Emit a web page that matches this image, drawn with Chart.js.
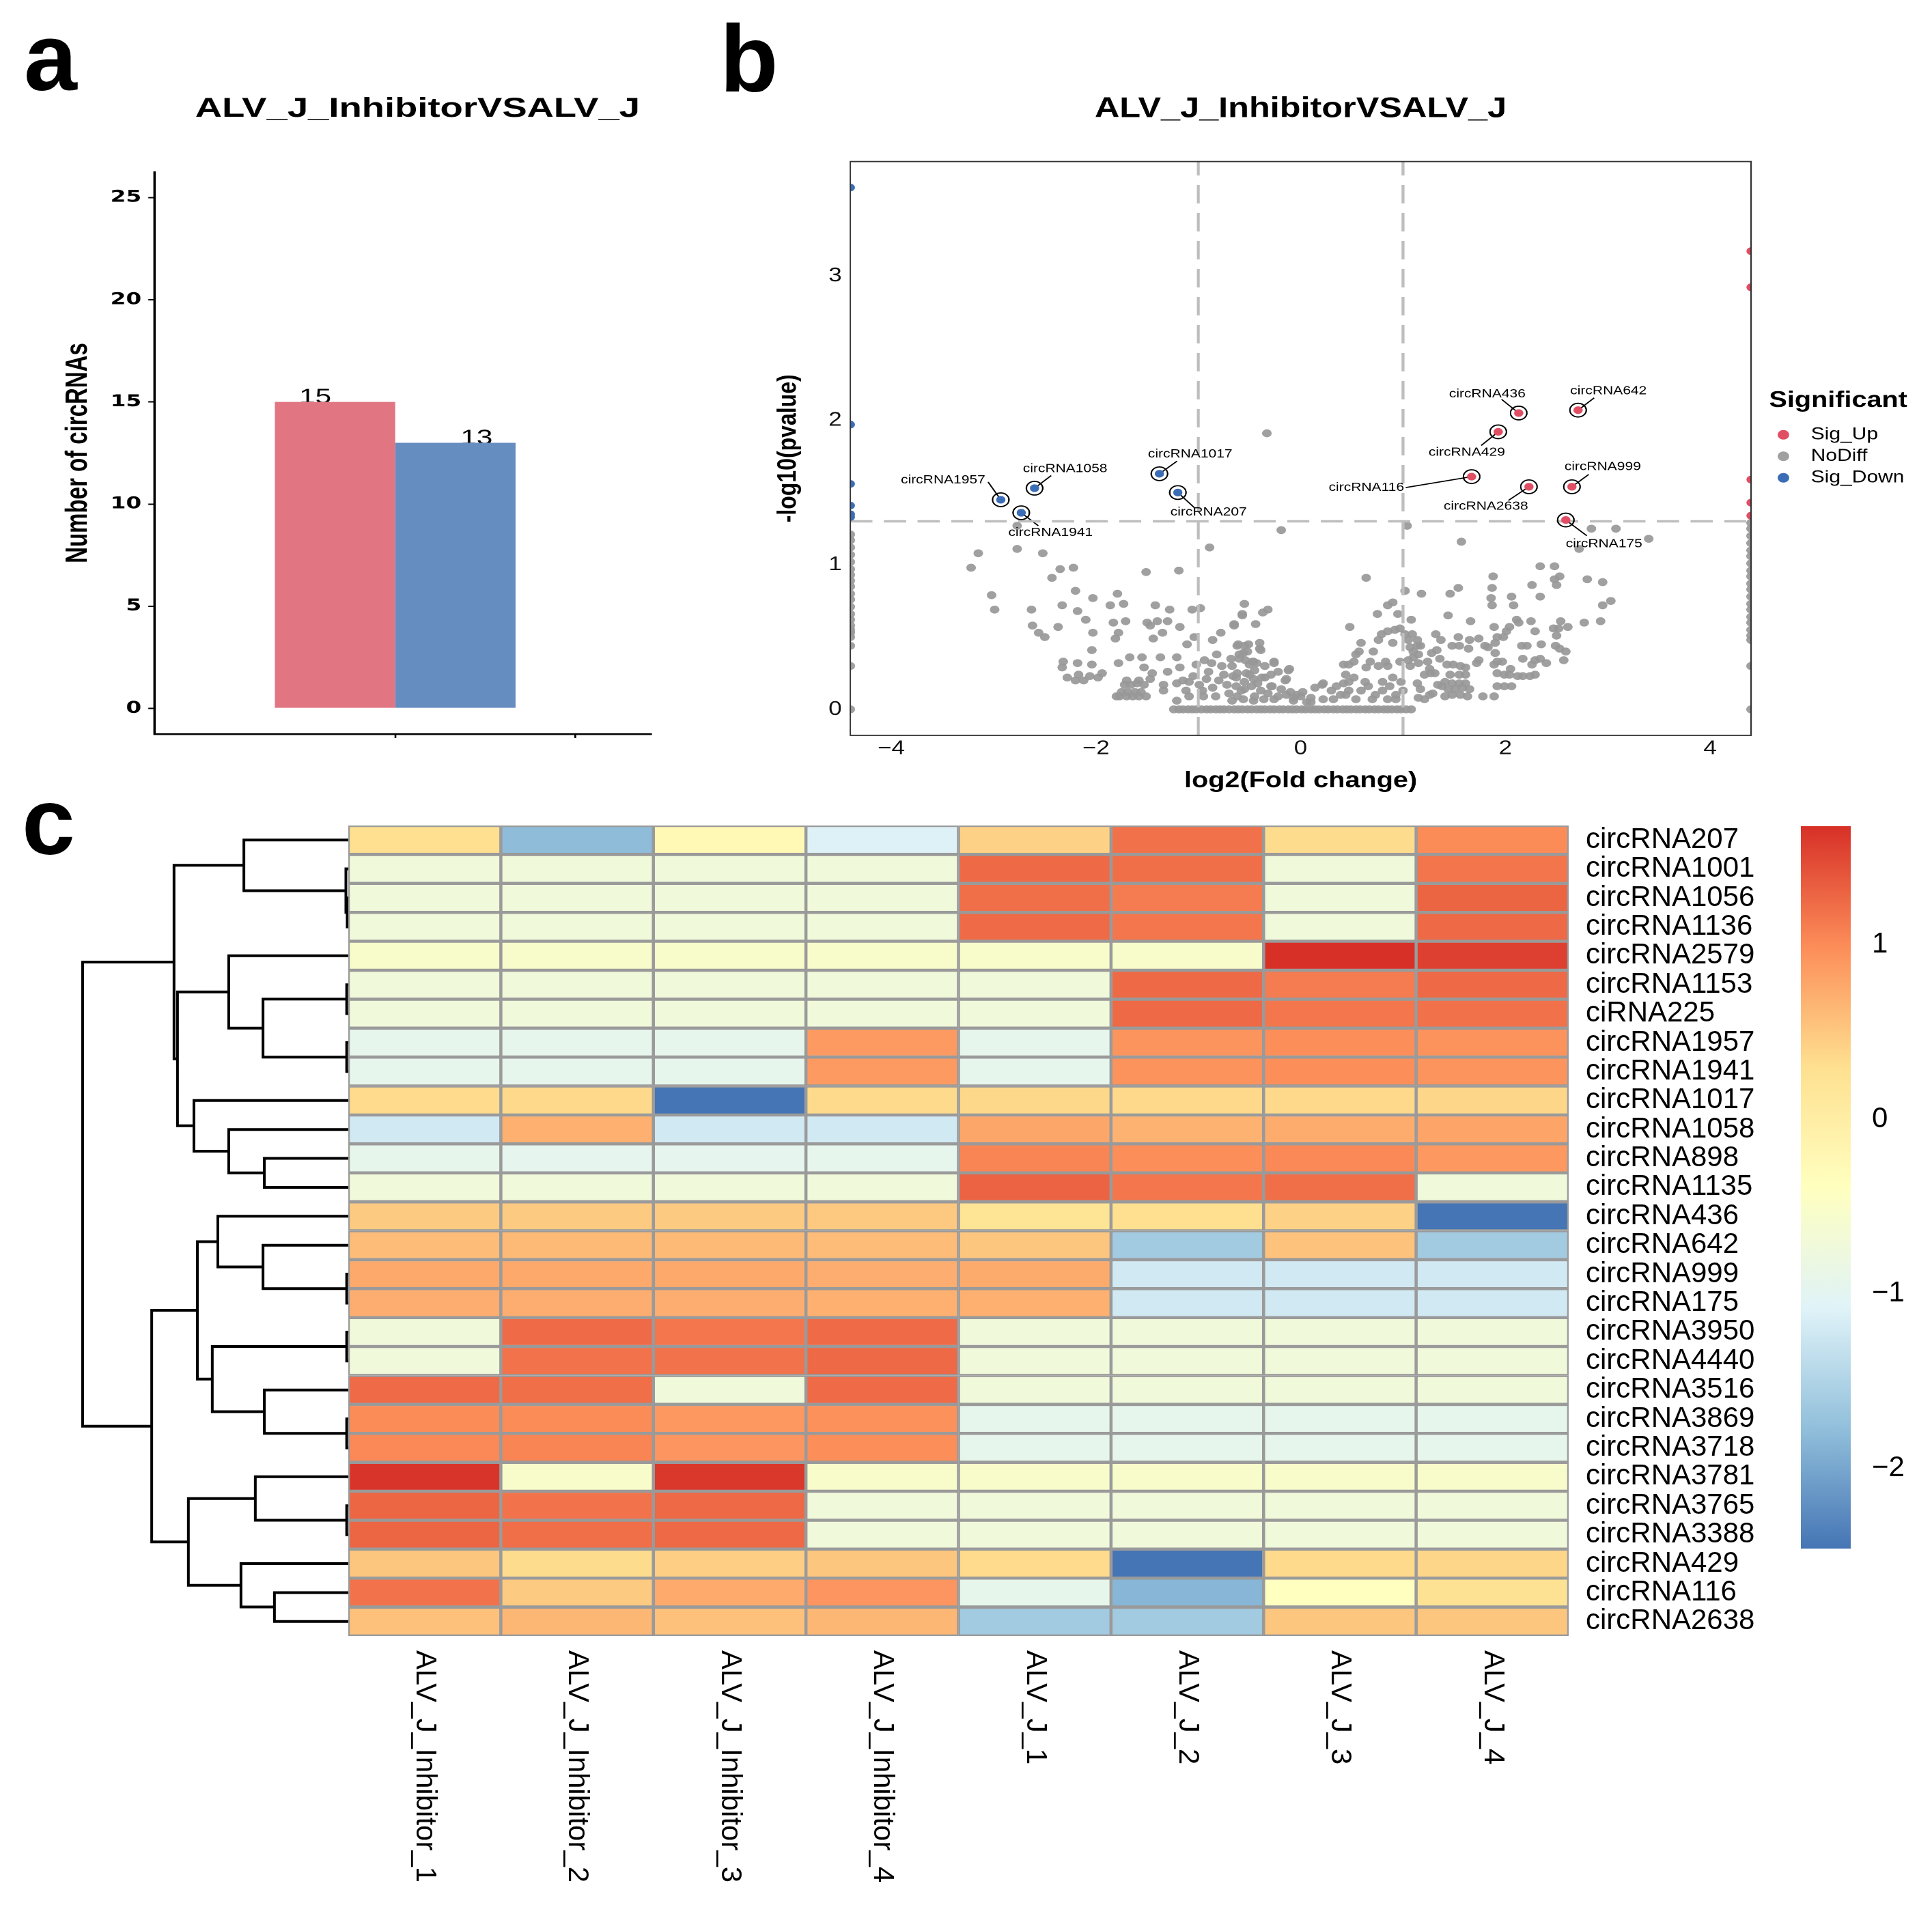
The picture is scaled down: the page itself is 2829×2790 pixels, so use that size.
<!DOCTYPE html>
<html lang="en">
<head>
<meta charset="UTF-8" />
<title>ALV_J_Inhibitor vs ALV_J circRNAs</title>
<script src="https://cdn.jsdelivr.net/npm/chart.js@4.4.1/dist/chart.umd.min.js"></script>
<style>
body {
  margin: 0;
  width: 2829px;
  height: 2790px;
  position: relative;
  overflow: hidden;
  background: #fff;
  font-family: 'Liberation Sans', Arial, sans-serif;
}
.letra {
  position: absolute;
  font-size: 140px;
  line-height: 140px;
  font-weight: bold;
  color: #000;
}
.caja { position: absolute; }
.caja canvas { display: block; }
</style>
</head>
<body>
<div class="letra" style="left:35px;top:14px">a</div>
<div class="letra" style="left:1054px;top:16px">b</div>
<div class="letra" style="left:32px;top:1133px">c</div>

<div class="caja" style="left:0;top:0;width:898.5px;height:1103px;transform:scaleX(1.36);transform-origin:0 0">
  <canvas id="barras"></canvas>
</div>
<div class="caja" style="left:1050px;top:0;width:1482.5px;height:1190px;transform:scaleX(1.2);transform-origin:0 0">
  <canvas id="volcan"></canvas>
</div>
<div class="caja" style="left:0;top:1150px;width:520px;height:1640px">
  <canvas id="dendro"></canvas>
</div>
<div class="caja" style="left:500px;top:1150px;width:2120px;height:1640px">
  <canvas id="mapa"></canvas>
</div>
<div class="caja" style="left:2620px;top:1150px;width:209px;height:1180px">
  <canvas id="escala"></canvas>
</div>

<script>
// ---------- data: panel a ----------
const chartTitle = 'ALV_J_InhibitorVSALV_J';
const barGroups = ['Sig_Up', 'Sig_Down'];
const barCounts = [15, 13];

// ---------- data: panel b (volcano) ----------
const fcCut = 1;
const pCut = 0.05;
const labelNames = ['circRNA1957', 'circRNA1058', 'circRNA1941', 'circRNA1017', 'circRNA207',
  'circRNA436', 'circRNA642', 'circRNA429', 'circRNA116', 'circRNA2638', 'circRNA999', 'circRNA175'];
const labelLogFC = [-2.93, -2.60, -2.73, -1.38, -1.20, 2.13, 2.71, 1.93, 1.67, 2.23, 2.65, 2.59];
const labelNegLogP = [1.45, 1.53, 1.36, 1.63, 1.50, 2.05, 2.07, 1.92, 1.61, 1.54, 1.54, 1.31];
const sigUpEdge = [[4.4, 3.17], [4.4, 2.92], [4.4, 1.59], [4.4, 1.43], [4.4, 1.34]];
const sigDownEdge = [[-4.4, 3.61], [-4.4, 1.97], [-4.4, 1.56], [-4.4, 1.41], [-4.4, 1.35], [-4.4, 1.33]];
const noDiffPoints = [
  [-0.33,1.91],[-0.19,1.24],[1.04,1.27],[1.57,1.16],[2.84,1.25],[3.08,1.25],[3.40,1.18],[2.72,1.11],[0.64,0.91],
  [-2.77,1.27],[-3.15,1.08],[-2.77,1.11],[-2.52,1.08],[-3.22,0.98],[-2.35,0.97],[-2.22,0.98],[-1.51,0.95],[-1.19,0.96],
  [-0.89,1.12],[-2.43,0.91],[-3.02,0.79],[-2.99,0.69],[-2.20,0.82],[-2.03,0.77],[-1.79,0.80],[-1.86,0.72],[-1.73,0.73],
  [-2.33,0.72],[-2.63,0.69],[-2.18,0.68],[-1.42,0.72],[-1.28,0.69],[-1.06,0.69],[-0.98,0.70],[-0.55,0.73],[-0.32,0.69],
  [-0.37,0.67],[-0.57,0.65],[-2.10,0.62],[-1.83,0.60],[-1.71,0.61],[-1.50,0.60],[-1.40,0.61],[-1.30,0.61],[-1.18,0.57],
  [-1.47,0.58],[-2.62,0.58],[-2.56,0.53],[-2.37,0.57],[-2.50,0.50],[-2.03,0.53],[-1.81,0.49],[-1.78,0.53],[-1.44,0.49],
  [-1.35,0.53],[-1.04,0.50],[-1.11,0.45],[-0.78,0.53],[-0.65,0.58],[-0.44,0.59],[-0.86,0.48],[-0.61,0.45],[-0.51,0.45],
  [-0.40,0.46],[-2.04,0.41],[-2.04,0.31],[-2.18,0.32],[-2.32,0.33],[-2.33,0.29],[-2.17,0.24],[-2.06,0.23],[-1.94,0.25],
  [-1.78,0.32],[-1.67,0.36],[-1.55,0.36],[-1.37,0.36],[-1.53,0.29],[-1.45,0.25],[-1.30,0.26],[-1.21,0.36],[-1.18,0.29],
  [-1.02,0.31],[-0.94,0.34],[-0.87,0.32],[-0.82,0.38],[-0.77,0.30],[-0.68,0.35],[-0.60,0.38],[-0.54,0.34],[-0.47,0.33],
  [-0.39,0.41],[-0.26,0.32],[-0.12,0.27],[-0.45,0.27],[-0.62,0.25],[-0.75,0.24],[-0.92,0.21],[-1.09,0.19],[-1.21,0.18],
  [-1.34,0.17],[-1.47,0.21],[-1.60,0.18],[-1.72,0.17],[-1.77,0.09],[-1.64,0.09],[-1.51,0.09],[-1.34,0.13],[-1.21,0.06],
  [-1.09,0.09],[-0.96,0.13],[-0.83,0.09],[-0.70,0.11],[-0.58,0.13],[-0.45,0.09],[-0.32,0.11],[-0.19,0.14],[-0.07,0.06],
  [0.06,0.05],[0.21,0.17],[-1.75,0.12],[-1.69,0.12],[-1.62,0.12],[-1.56,0.12],[-1.70,0.20],[-1.66,0.17],[-1.58,0.20],
  [-1.53,0.17],[-1.80,0.09],[-1.70,0.09],[-1.58,0.09],[-1.15,0.20],[-1.12,0.13],[-1.05,0.23],[-0.99,0.17],[-0.95,0.09],
  [-0.90,0.26],[-0.86,0.15],[-0.80,0.20],[-0.72,0.17],[-0.66,0.23],[-0.62,0.09],[-0.55,0.19],[-0.50,0.24],[-0.42,0.18],
  [-0.35,0.22],[-0.28,0.16],[-0.22,0.09],[-0.15,0.20],[-0.10,0.12],[-0.04,0.10],[0.02,0.12],[0.10,0.08],[0.14,0.15],
  [-2.28,0.22],[-2.20,0.20],[-2.12,0.20],[-1.98,0.22],
  [1.02,0.82],[1.18,0.80],[1.46,0.80],[1.54,0.84],[1.88,0.92],[2.34,0.99],[2.48,0.99],[2.48,0.90],[2.53,0.92],[2.50,0.86],
  [2.26,0.86],[2.34,0.78],[2.06,0.78],[2.08,0.72],[1.87,0.84],[1.86,0.77],[1.87,0.72],[2.80,0.90],[2.95,0.88],[3.03,0.75],
  [2.95,0.72],[2.77,0.60],[2.93,0.61],[2.61,0.57],[2.54,0.61],[2.47,0.56],[2.52,0.56],[2.25,0.61],[2.29,0.54],[2.11,0.62],
  [2.13,0.60],[2.04,0.57],[2.01,0.54],[1.89,0.57],[1.66,0.61],[1.44,0.65],[1.08,0.62],[0.95,0.66],[0.75,0.66],[0.85,0.72],
  [0.90,0.74],[0.48,0.57],[0.97,0.56],[0.92,0.55],[0.85,0.54],[0.79,0.52],[1.02,0.52],[1.09,0.52],[0.76,0.48],[0.90,0.46],
  [0.59,0.46],[1.05,0.48],[1.14,0.48],[1.32,0.52],[1.37,0.48],[1.54,0.50],[1.65,0.48],[1.74,0.49],[1.48,0.44],[1.55,0.44],
  [1.80,0.44],[1.90,0.46],[1.92,0.50],[1.98,0.50],[2.16,0.44],[2.21,0.44],[2.35,0.45],[2.50,0.51],[2.49,0.44],[2.53,0.42],
  [2.59,0.40],[2.57,0.34],[2.40,0.32],[2.29,0.34],[2.34,0.35],[2.26,0.31],[2.17,0.35],[2.29,0.24],[2.24,0.23],[2.17,0.23],
  [2.12,0.23],[2.04,0.24],[1.99,0.24],[1.92,0.25],[2.05,0.28],[1.92,0.33],[1.97,0.33],[1.89,0.31],[1.83,0.43],[1.90,0.39],
  [1.72,0.32],[1.74,0.34],[1.64,0.42],[1.92,0.16],[1.99,0.16],[2.06,0.16],[1.78,0.09],[1.89,0.09],[1.63,0.09],[1.56,0.10],
  [1.48,0.10],[1.41,0.09],[1.65,0.14],[1.58,0.15],[1.51,0.14],[1.44,0.14],[1.61,0.18],[1.55,0.18],[1.48,0.18],[1.41,0.19],
  [1.61,0.24],[1.55,0.24],[1.46,0.24],[1.43,0.31],[1.49,0.31],[1.56,0.30],[1.61,0.29],[1.36,0.35],[1.28,0.39],[1.33,0.41],
  [1.24,0.33],[1.26,0.28],[1.21,0.24],[1.27,0.25],[1.31,0.25],[1.15,0.32],[1.10,0.36],[1.15,0.38],[1.07,0.43],[1.10,0.40],
  [1.17,0.44],[1.14,0.44],[1.05,0.34],[1.07,0.30],[1.14,0.18],[1.17,0.14],[1.15,0.08],[1.21,0.07],[1.26,0.10],[1.29,0.11],
  [1.34,0.17],[1.38,0.16],[0.22,0.18],[0.30,0.13],[0.35,0.16],[0.32,0.07],[0.42,0.31],[0.47,0.31],[0.44,0.24],[0.42,0.18],
  [0.47,0.19],[0.44,0.10],[0.47,0.13],[0.52,0.22],[0.52,0.33],[0.54,0.38],[0.57,0.40],[0.64,0.29],[0.68,0.33],[0.71,0.40],
  [0.76,0.30],[0.59,0.13],[0.63,0.19],[0.66,0.16],[0.73,0.10],[0.80,0.19],[0.80,0.13],[0.85,0.30],[0.83,0.33],[0.90,0.22],
  [0.87,0.16],[0.93,0.10],[0.97,0.33],[0.98,0.19],[1.00,0.13],[0.93,0.07],[0.85,0.07],[0.70,0.07],[0.54,0.07],[0.39,0.10],
  [0.22,0.07],[0.10,0.05],[-0.57,0.66],[-0.65,0.59],[-0.62,0.44],[-0.55,0.44],[-0.40,0.42],[-0.56,0.39],[-0.52,0.40],
  [-0.67,0.30],[-0.60,0.35],[-0.50,0.31],[-0.46,0.33],[-0.43,0.32],[-0.35,0.30],[-0.26,0.33],[-0.22,0.26],[-0.11,0.28],
  [-0.14,0.21],[-0.29,0.24],[-0.38,0.22],[-0.46,0.21],[-0.53,0.25],[-0.63,0.22],[-0.63,0.16],[-0.55,0.14],[-0.48,0.16],
  [-0.39,0.13],[-0.29,0.16],[-0.14,0.10],[-0.07,0.08],[0.00,0.09],[-0.26,0.07],[-0.36,0.07],[-0.46,0.06],[-0.56,0.07],
  [-0.67,0.06],
  [-1.24,0],[-1.19,0],[-1.15,0],[-1.10,0],[-1.06,0],[-1.02,0],[-0.97,0],[-0.92,0],[-0.88,0],[-0.83,0],[-0.79,0],[-0.75,0],
  [-0.70,0],[-0.65,0],[-0.61,0],[-0.57,0],[-0.52,0],[-0.48,0],[-0.43,0],[-0.39,0],[-0.35,0],[-0.30,0],[-0.26,0],[-0.21,0],
  [-0.17,0],[-0.12,0],[-0.08,0],[-0.04,0],[0.01,0],[0.05,0],[0.10,0],[0.14,0],[0.18,0],[0.23,0],[0.27,0],[0.32,0],[0.36,0],
  [0.41,0],[0.45,0],[0.49,0],[0.54,0],[0.58,0],[0.63,0],[0.67,0],[0.72,0],[0.76,0],[0.81,0],[0.85,0],[0.89,0],[0.94,0],
  [0.98,0],[1.03,0],[1.08,0],
  [-4.4,1.21],[-4.4,1.17],[-4.4,1.12],[-4.4,1.07],[-4.4,1.02],[-4.4,0.97],[-4.4,0.93],[-4.4,0.89],[-4.4,0.85],[-4.4,0.80],
  [-4.4,0.76],[-4.4,0.71],[-4.4,0.66],[-4.4,0.62],[-4.4,0.58],[-4.4,0.55],[-4.4,0.53],[-4.4,0.50],[-4.4,0.44],[-4.4,0.30],
  [-4.4,0.00],
  [4.4,1.29],[4.4,1.25],[4.4,1.20],[4.4,1.15],[4.4,1.10],[4.4,1.06],[4.4,1.01],[4.4,0.96],[4.4,0.92],[4.4,0.87],[4.4,0.83],
  [4.4,0.78],[4.4,0.73],[4.4,0.69],[4.4,0.64],[4.4,0.60],[4.4,0.55],[4.4,0.51],[4.4,0.48],[4.4,0.30],[4.4,0.00]
];
const volcanoXTicks = [-4, -2, 0, 2, 4];
const volcanoYTicks = [0, 1, 2, 3];

// ---------- data: panel c (heatmap, row z-scores) ----------
const rowNames = ['circRNA207', 'circRNA1001', 'circRNA1056', 'circRNA1136', 'circRNA2579', 'circRNA1153', 'ciRNA225',
  'circRNA1957', 'circRNA1941', 'circRNA1017', 'circRNA1058', 'circRNA898', 'circRNA1135', 'circRNA436', 'circRNA642',
  'circRNA999', 'circRNA175', 'circRNA3950', 'circRNA4440', 'circRNA3516', 'circRNA3869', 'circRNA3718', 'circRNA3781',
  'circRNA3765', 'circRNA3388', 'circRNA429', 'circRNA116', 'circRNA2638'];
const sampleNames = ['ALV_J_Inhibitor_1', 'ALV_J_Inhibitor_2', 'ALV_J_Inhibitor_3', 'ALV_J_Inhibitor_4',
  'ALV_J_1', 'ALV_J_2', 'ALV_J_3', 'ALV_J_4'];
const inhibitor1 = [0.30, -0.72, -0.72, -0.72, -0.54, -0.72, -0.72, -0.93, -0.93, 0.34, -1.21, -0.92, -0.72, 0.48,
  0.60, 0.76, 0.72, -0.72, -0.72, 1.24, 1.00, 1.02, 1.65, 1.28, 1.28, 0.52, 1.18, 0.56];
const inhibitor2 = [-1.80, -0.72, -0.72, -0.72, -0.54, -0.72, -0.72, -0.93, -0.93, 0.36, 0.70, -0.95, -0.72, 0.48,
  0.62, 0.76, 0.72, 1.24, 1.18, 1.22, 1.00, 1.05, -0.54, 1.18, 1.22, 0.33, 0.48, 0.64];
const inhibitor3 = [-0.25, -0.72, -0.72, -0.72, -0.54, -0.72, -0.72, -0.93, -0.93, -2.46, -1.21, -0.95, -0.72, 0.48,
  0.62, 0.76, 0.72, 1.16, 1.18, -0.72, 0.90, 0.92, 1.62, 1.26, 1.26, 0.45, 0.75, 0.56];
const inhibitor4 = [-1.10, -0.72, -0.72, -0.72, -0.54, -0.72, -0.72, 0.88, 0.88, 0.35, -1.21, -0.93, -0.72, 0.50,
  0.60, 0.72, 0.70, 1.24, 1.26, 1.24, 0.96, 0.98, -0.54, -0.72, -0.72, 0.52, 0.92, 0.64];
const alvj1 = [0.42, 1.25, 1.22, 1.24, -0.54, -0.72, -0.72, -0.93, -0.93, 0.37, 0.78, 1.05, 1.30, 0.22,
  0.52, 0.74, 0.70, -0.72, -0.72, -0.72, -0.93, -0.93, -0.54, -0.72, -0.72, 0.34, -0.92, -1.62];
const alvj2 = [1.20, 1.22, 1.12, 1.16, -0.54, 1.26, 1.26, 0.93, 0.95, 0.36, 0.68, 0.98, 1.16, 0.30,
  -1.62, -1.21, -1.21, -0.72, -0.72, -0.72, -0.93, -0.93, -0.54, -0.72, -0.72, -2.46, -1.85, -1.62];
const alvj3 = [0.33, -0.72, -0.72, -0.72, 1.68, 1.12, 1.16, 0.98, 0.98, 0.36, 0.73, 1.02, 1.22, 0.42,
  0.55, -1.21, -1.21, -0.72, -0.72, -0.72, -0.93, -0.93, -0.54, -0.72, -0.72, 0.35, -0.40, 0.52];
const alvj4 = [1.00, 1.17, 1.29, 1.26, 1.56, 1.26, 1.20, 0.95, 0.93, 0.38, 0.80, 0.90, -0.72, -2.46,
  -1.62, -1.21, -1.21, -0.72, -0.72, -0.72, -0.93, -0.93, -0.54, -0.72, -0.72, 0.38, 0.25, 0.52];
const colorbarTicks = [-2, -1, 0, 1];
// row dendrogram, hclust style: negative = leaf (row number), positive = earlier merge
const mergeLeft = [-3, -2, -1, -6, -8, 4, -5, -12, -11, -10, 7, 3, -16, -15, -14, -18, -21, -20, 16, 15, -24, -23, -27, -26, 22, 20, 12];
const mergeRight = [-4, 1, 2, -7, -9, 5, 6, -13, 8, 9, 10, 11, -17, 13, 14, -19, -22, 17, 18, 19, -25, 21, -28, 23, 24, 25, 26];
const mergeHeight = [0.04, 0.09, 3.93, 0.06, 0.06, 3.21, 4.5, 3.16, 4.5, 5.81, 6.43, 6.56, 0.06, 3.21, 4.91, 0.06, 0.06,
  3.16, 5.12, 5.68, 0.06, 3.5, 2.78, 4.04, 6.02, 7.4, 10.0];

// ---------- estilos ----------
Chart.defaults.font.family = "'Liberation Sans', Arial, sans-serif";
Chart.defaults.color = '#000';
const barColors = ['#E17682', '#668DC0'];
const barLabelShift = [-21.3, 22.8];
const upColor = '#E04E63';
const downColor = '#3A6DB5';
const greyColor = 'rgba(152,152,152,0.92)';
const dashColor = '#BEBEBE';
const rdylbu = ['#4575B4', '#91BFDB', '#E0F3F8', '#FFFFBF', '#FEE090', '#FC8D59', '#D73027'];
// posición de cada etiqueta respecto a su punto, y dónde llega la línea guía (respecto a la etiqueta)
const labelOffsets = [[-70.4, -29], [37.3, -28.5], [35.8, 29], [37.5, -28.5], [37.5, 29], [-38.3, -28],
  [37.1, -28], [-38.3, 30], [-128.3, 16], [-52.5, 29], [37.5, -29], [46.7, 35]];
const leaderEnds = [[55, 3], [-17, 10], [-15, -10], [-16, 10], [-17.5, -7], [17.5, 8],
  [-17.5, 10], [17.5, -10], [48, 0], [27.5, -9], [-17, 11], [-21, -12]];
const sinMenos = v => String(v).replace('-', '\u2212');
const base = { responsive: true, maintainAspectRatio: false, animation: false, events: [] };

// ---------- panel a ----------
const etiquetasBarras = {
  id: 'etiquetasBarras',
  beforeDatasetsDraw(chart) {
    const ctx = chart.ctx;
    ctx.save();
    ctx.font = "31px 'Liberation Sans', Arial, sans-serif";
    ctx.fillStyle = '#000';
    ctx.textAlign = 'center';
    ctx.textBaseline = 'alphabetic';
    chart.data.datasets.forEach((ds, i) => {
      const bar = chart.getDatasetMeta(i).data[0];
      ctx.fillText(String(barCounts[i]), bar.x + barLabelShift[i], bar.y + 2);
    });
    ctx.restore();
  }
};

new Chart(document.getElementById('barras'), {
  type: 'bar',
  data: {
    datasets: barGroups.map((g, i) => ({
      label: g,
      data: [{ x: 0, y: barCounts[i] }],
      backgroundColor: barColors[i],
      barPercentage: 1,
      categoryPercentage: 1.338
    }))
  },
  options: {
    ...base,
    devicePixelRatio: 2,
    layout: { padding: 0 },
    plugins: {
      legend: { display: false },
      tooltip: { enabled: false },
      title: {
        display: true, text: chartTitle, color: '#000',
        font: { size: 40, weight: 'bold' },
        padding: { top: 136, bottom: 68 }
      }
    },
    scales: {
      x: {
        type: 'linear', min: -1.338, max: 1.422, offset: false,
        afterBuildTicks(s) { s.ticks = [{ value: 0 }, { value: 1 }]; },
        ticks: { display: false },
        grid: { offset: false, drawOnChartArea: false, drawTicks: true, tickLength: 6, color: '#000', lineWidth: 2 },
        border: { display: true, color: '#000', width: 2.5 },
        afterFit(s) { s.height = 28; }
      },
      y: {
        min: -1.25, max: 26.25,
        afterBuildTicks(s) { s.ticks = [0, 5, 10, 15, 20, 25].map(v => ({ value: v })); },
        ticks: { color: '#000', padding: 7.4, font: { family: "'DejaVu Sans', sans-serif", size: 24, weight: 'bold' } },
        grid: { drawOnChartArea: false, tickLength: 6.6, color: '#000', lineWidth: 2 },
        border: { display: true, color: '#000', width: 2.5 },
        title: {
          display: true, text: 'Number of circRNAs', color: '#000',
          font: { size: 33, weight: 'bold' }, padding: { top: 64.4, bottom: 0 }
        },
        afterFit(s) { s.width = 166.2; }
      },
      hueco: {
        axis: 'y', type: 'linear', position: 'right',
        ticks: { display: false }, grid: { display: false, drawTicks: false }, border: { display: false },
        afterFit(s) { s.width = 197.8; }
      }
    }
  },
  plugins: [etiquetasBarras]
});

// ---------- panel b ----------
const pLine = -Math.log10(pCut);
const labeled = labelNames.map((n, i) => ({ x: labelLogFC[i], y: labelNegLogP[i] }));
const upPts = labeled.filter(p => p.x >= fcCut && p.y >= pLine).concat(sigUpEdge.map(([x, y]) => ({ x, y })));
const downPts = labeled.filter(p => p.x <= -fcCut && p.y >= pLine).concat(sigDownEdge.map(([x, y]) => ({ x, y })));
const greyPts = noDiffPoints.map(([x, y]) => ({ x, y }));
const xLim = [-4.4, 4.4];
const yLim = [-0.18, 3.79];

const marco = {
  id: 'marco',
  afterDraw(chart) {
    const { ctx, chartArea: a } = chart;
    ctx.save();
    ctx.strokeStyle = '#333';
    ctx.lineWidth = 1.8;
    ctx.strokeRect(a.left, a.top, a.right - a.left, a.bottom - a.top);
    ctx.restore();
  }
};

const etiquetasVolcan = {
  id: 'etiquetasVolcan',
  beforeDatasetsDraw(chart) {
    const { ctx, scales: { x, y } } = chart;
    ctx.save();
    ctx.strokeStyle = '#000';
    ctx.lineWidth = 1.7;
    labelNames.forEach((name, i) => {
      const px = x.getPixelForValue(labelLogFC[i]);
      const py = y.getPixelForValue(labelNegLogP[i]);
      const cx = px + labelOffsets[i][0];
      const cy = py + labelOffsets[i][1];
      ctx.beginPath();
      ctx.moveTo(px, py);
      ctx.lineTo(cx + leaderEnds[i][0], cy + leaderEnds[i][1]);
      ctx.stroke();
    });
    ctx.restore();
  },
  afterDatasetsDraw(chart) {
    const { ctx, scales: { x, y } } = chart;
    ctx.save();
    ctx.font = "17.5px 'Liberation Sans', Arial, sans-serif";
    ctx.fillStyle = '#000';
    ctx.textAlign = 'center';
    ctx.textBaseline = 'middle';
    labelNames.forEach((name, i) => {
      const px = x.getPixelForValue(labelLogFC[i]);
      const py = y.getPixelForValue(labelNegLogP[i]);
      ctx.fillText(name, px + labelOffsets[i][0], py + labelOffsets[i][1]);
    });
    ctx.restore();
  }
};

const leyendaSig = {
  id: 'leyendaSig',
  afterDraw(chart) {
    const { ctx, chartArea: a } = chart;
    const left = a.right + 22;
    const mid = (a.top + a.bottom) / 2;
    ctx.save();
    ctx.textAlign = 'left';
    ctx.textBaseline = 'middle';
    ctx.fillStyle = '#000';
    ctx.font = "bold 33px 'Liberation Sans', Arial, sans-serif";
    ctx.fillText('Significant', left, mid - 70);
    ctx.font = "25px 'Liberation Sans', Arial, sans-serif";
    [0, 1, 2].forEach((di, k) => {
      const ds = chart.data.datasets[di];
      const yy = mid - 20 + k * 31.5;
      ctx.fillStyle = ds.backgroundColor;
      ctx.beginPath();
      ctx.arc(left + 17.5, yy, 7, 0, Math.PI * 2);
      ctx.fill();
      ctx.fillStyle = '#000';
      ctx.fillText(ds.label, left + 51, yy);
    });
    ctx.restore();
  }
};

const dashed = (data) => ({
  label: 'umbral', data, showLine: true, pointRadius: 0, borderColor: dashColor,
  borderWidth: 3.5, borderDash: [27, 14], order: 4
});

new Chart(document.getElementById('volcan'), {
  type: 'scatter',
  data: {
    datasets: [
      { label: 'Sig_Up', data: upPts, backgroundColor: upColor, borderColor: upColor, pointRadius: 5.6, pointBorderWidth: 0, order: 2 },
      { label: 'NoDiff', data: greyPts, backgroundColor: greyColor, borderColor: greyColor, pointRadius: 5.8, pointBorderWidth: 0, order: 5 },
      { label: 'Sig_Down', data: downPts, backgroundColor: downColor, borderColor: downColor, pointRadius: 5.6, pointBorderWidth: 0, order: 2 },
      dashed([{ x: -fcCut, y: yLim[0] }, { x: -fcCut, y: yLim[1] }]),
      dashed([{ x: fcCut, y: yLim[0] }, { x: fcCut, y: yLim[1] }]),
      dashed([{ x: xLim[0], y: pLine }, { x: xLim[1], y: pLine }]),
      { label: 'anillo', data: labeled, pointRadius: 10, backgroundColor: 'rgba(0,0,0,0)', borderColor: '#000', pointBorderWidth: 1.8, order: 1 }
    ]
  },
  options: {
    ...base,
    devicePixelRatio: 2,
    layout: { padding: { left: 0, right: 221.25, top: 0, bottom: 0 } },
    plugins: {
      legend: { display: false },
      tooltip: { enabled: false },
      title: {
        display: true, text: chartTitle, fullSize: false, color: '#000',
        font: { size: 42, weight: 'bold' }, padding: { top: 134.8, bottom: 51.4 }
      }
    },
    scales: {
      x: {
        type: 'linear', min: xLim[0], max: xLim[1],
        afterBuildTicks(s) { s.ticks = volcanoXTicks.map(v => ({ value: v })); },
        ticks: { color: '#111', padding: 2, font: { size: 29 }, callback: v => sinMenos(v) },
        grid: { display: false, drawTicks: false },
        border: { display: false },
        title: { display: true, text: 'log2(Fold change)', color: '#000', font: { size: 33, weight: 'bold' }, padding: { top: 0, bottom: 26.2 } },
        afterFit(s) { s.height = 113; }
      },
      y: {
        type: 'linear', min: yLim[0], max: yLim[1],
        afterBuildTicks(s) { s.ticks = volcanoYTicks.map(v => ({ value: v })); },
        ticks: { color: '#111', padding: 10.4, font: { size: 29 } },
        grid: { display: false, drawTicks: false },
        border: { display: false },
        title: { display: true, text: '-log10(pvalue)', color: '#000', font: { size: 32, weight: 'bold' }, padding: { top: 67.9, bottom: 0 } },
        afterFit(s) { s.width = 162.5; }
      }
    }
  },
  plugins: [marco, etiquetasVolcan, leyendaSig]
});

// ---------- panel c ----------
const columns = [inhibitor1, inhibitor2, inhibitor3, inhibitor4, alvj1, alvj2, alvj3, alvj4];
const allZ = columns.flat();
const zMin = Math.min(...allZ);
const zMax = Math.max(...allZ);

function hexRgb(h) {
  return [1, 3, 5].map(i => parseInt(h.slice(i, i + 2), 16));
}
function colorFor(v) {
  const t = Math.min(1, Math.max(0, (v - zMin) / (zMax - zMin))) * (rdylbu.length - 1);
  const i = Math.min(Math.floor(t), rdylbu.length - 2);
  const f = t - i;
  const a = hexRgb(rdylbu[i]), b = hexRgb(rdylbu[i + 1]);
  const c = a.map((av, k) => Math.round(av + (b[k] - av) * f));
  return `rgb(${c[0]},${c[1]},${c[2]})`;
}

// dendrogram as elbow segments
function dendroPoints() {
  const nodes = [];
  const node = ref => ref < 0 ? { h: 0, y: -ref - 0.5 } : nodes[ref - 1];
  const pts = [];
  mergeLeft.forEach((l, k) => {
    const a = node(l), b = node(mergeRight[k]), h = mergeHeight[k];
    pts.push({ x: a.h, y: a.y }, { x: h, y: a.y }, { x: h, y: b.y }, { x: b.h, y: b.y }, { x: null, y: null });
    nodes.push({ h, y: (a.y + b.y) / 2 });
  });
  return pts;
}

new Chart(document.getElementById('dendro'), {
  type: 'scatter',
  data: {
    datasets: [{
      label: 'dendrograma', data: dendroPoints(), showLine: true, spanGaps: false, pointRadius: 0,
      borderColor: '#000', borderWidth: 4, borderJoinStyle: 'miter', borderCapStyle: 'butt', clip: false
    }]
  },
  options: {
    ...base,
    layout: { padding: { left: 121, right: 10, top: 59, bottom: 394 } },
    plugins: { legend: { display: false }, tooltip: { enabled: false } },
    scales: {
      x: { type: 'linear', reverse: true, min: 0, max: Math.max(...mergeHeight), display: false },
      y: { type: 'linear', reverse: true, min: 0, max: rowNames.length, display: false }
    }
  }
});

const etiquetasColumnas = {
  id: 'etiquetasColumnas',
  afterDraw(chart) {
    const { ctx, chartArea, scales: { x } } = chart;
    ctx.save();
    ctx.font = "42px 'Liberation Sans', Arial, sans-serif";
    ctx.fillStyle = '#000';
    ctx.textAlign = 'left';
    ctx.textBaseline = 'middle';
    chart.data.labels.forEach((lab, i) => {
      ctx.save();
      ctx.translate(x.getPixelForTick(i), chartArea.bottom + 21);
      ctx.rotate(Math.PI / 2);
      ctx.fillText(lab, 0, 0);
      ctx.restore();
    });
    ctx.restore();
  }
};

new Chart(document.getElementById('mapa'), {
  type: 'bar',
  data: {
    labels: sampleNames,
    datasets: rowNames.map((name, r) => ({
      label: name,
      data: sampleNames.map(() => [r, r + 1]),
      backgroundColor: columns.map(col => colorFor(col[r])),
      borderColor: '#9A9A9A',
      borderWidth: 2.6,
      borderSkipped: false,
      grouped: false,
      barPercentage: 1,
      categoryPercentage: 1
    }))
  },
  options: {
    ...base,
    layout: { padding: { left: 10, top: 59, right: 0, bottom: 0 } },
    plugins: { legend: { display: false }, tooltip: { enabled: false } },
    scales: {
      x: {
        type: 'category', ticks: { display: false },
        grid: { display: false, drawTicks: false }, border: { display: false },
        afterFit(s) { s.height = 394; }
      },
      y: {
        type: 'linear', position: 'right', reverse: true, min: 0, max: rowNames.length,
        afterBuildTicks(s) { s.ticks = rowNames.map((_, i) => ({ value: i + 0.5 })); },
        ticks: { autoSkip: false, padding: 25, color: '#000', font: { size: 42 }, callback: (v, i) => rowNames[i] },
        grid: { display: false, drawTicks: false }, border: { display: false },
        afterFit(s) { s.width = 323; }
      }
    }
  },
  plugins: [etiquetasColumnas]
});

new Chart(document.getElementById('escala'), {
  type: 'bar',
  data: {
    labels: ['z'],
    datasets: [{
      label: 'escala',
      data: [[zMin, zMax]],
      borderWidth: 0,
      barPercentage: 1,
      categoryPercentage: 1,
      backgroundColor(c) {
        const chart = c.chart;
        if (!chart.chartArea) return rdylbu[3];
        const y = chart.scales.y;
        const g = chart.ctx.createLinearGradient(0, y.getPixelForValue(zMin), 0, y.getPixelForValue(zMax));
        rdylbu.forEach((col, i) => g.addColorStop(i / (rdylbu.length - 1), col));
        return g;
      }
    }]
  },
  options: {
    ...base,
    layout: { padding: { left: 17, top: 60, right: 0, bottom: 62 } },
    plugins: { legend: { display: false }, tooltip: { enabled: false } },
    scales: {
      x: { display: false },
      y: {
        type: 'linear', position: 'right', min: zMin, max: zMax,
        afterBuildTicks(s) { s.ticks = colorbarTicks.map(v => ({ value: v })); },
        ticks: { padding: 31, color: '#000', font: { size: 42 }, callback: v => sinMenos(v) },
        grid: { display: false, drawTicks: false }, border: { display: false },
        afterFit(s) { s.width = 119; }
      }
    }
  }
});
</script>
</body>
</html>
